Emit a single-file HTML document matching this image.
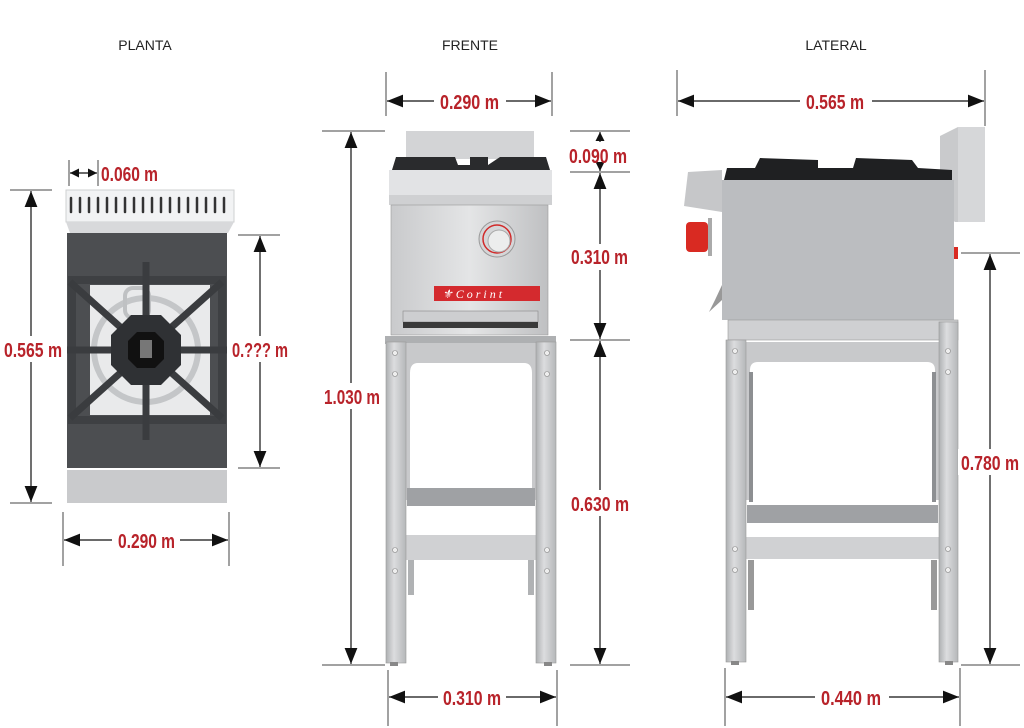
<!DOCTYPE html>
<html><head><meta charset="utf-8"><style>
html,body{margin:0;padding:0;background:#fff;}
svg{display:block;}
.t{font-family:"Liberation Sans",sans-serif;font-size:14px;fill:#222;}
.d{font-family:"Liberation Sans Narrow","Liberation Sans",sans-serif;font-weight:bold;font-size:20px;fill:#b8232a;}
.l{stroke:#111;stroke-width:1.2;fill:none;}
.tk{stroke:#444;stroke-width:1;}
</style></head><body>
<svg width="1024" height="728" viewBox="0 0 1024 728" xmlns="http://www.w3.org/2000/svg">
<defs>
<marker id="a" viewBox="0 0 10 10" refX="10" refY="5" markerWidth="9" markerHeight="9" orient="auto-start-reverse" markerUnits="userSpaceOnUse"><path d="M0,0 L10,5 L0,10z" fill="#111"/></marker>
<marker id="b" viewBox="0 0 10 10" refX="10" refY="5" markerWidth="16" markerHeight="16" orient="auto-start-reverse" markerUnits="userSpaceOnUse"><path d="M0,1 L10,5 L0,9z" fill="#111"/></marker>
<linearGradient id="steel" x1="0" x2="1"><stop offset="0" stop-color="#c9cacc"/><stop offset=".5" stop-color="#e4e5e6"/><stop offset="1" stop-color="#bfc0c2"/></linearGradient>
<linearGradient id="leg" x1="0" x2="1"><stop offset="0" stop-color="#aeb0b2"/><stop offset=".4" stop-color="#dcdddf"/><stop offset="1" stop-color="#b5b7b9"/></linearGradient>
</defs>

<text class="t" x="145" y="50" text-anchor="middle">PLANTA</text>
<text class="t" x="470" y="50" text-anchor="middle">FRENTE</text>
<text class="t" x="836" y="50" text-anchor="middle">LATERAL</text>

<!-- ============ PLANTA ============ -->
<rect x="66" y="190" width="168" height="32" fill="#f2f3f4" stroke="#cfd0d2"/>
<g stroke="#333" stroke-width="2.5" stroke-linecap="round">
<line x1="71" y1="198" x2="71" y2="212"/><line x1="80" y1="198" x2="80" y2="212"/><line x1="89" y1="198" x2="89" y2="212"/><line x1="98" y1="198" x2="98" y2="212"/><line x1="107" y1="198" x2="107" y2="212"/><line x1="116" y1="198" x2="116" y2="212"/><line x1="125" y1="198" x2="125" y2="212"/><line x1="134" y1="198" x2="134" y2="212"/><line x1="143" y1="198" x2="143" y2="212"/><line x1="152" y1="198" x2="152" y2="212"/><line x1="161" y1="198" x2="161" y2="212"/><line x1="170" y1="198" x2="170" y2="212"/><line x1="179" y1="198" x2="179" y2="212"/><line x1="188" y1="198" x2="188" y2="212"/><line x1="197" y1="198" x2="197" y2="212"/><line x1="206" y1="198" x2="206" y2="212"/><line x1="215" y1="198" x2="215" y2="212"/><line x1="224" y1="198" x2="224" y2="212"/>
</g>
<polygon points="66,222 234,222 228,233 70,233" fill="#d8d9db"/>
<rect x="67" y="233" width="160" height="235" fill="#4c4e51"/>
<rect x="90" y="285" width="120" height="130" fill="#e9eaeb"/>
<circle cx="146" cy="350" r="52" fill="none" stroke="#c4c6c8" stroke-width="6"/>
<rect x="125" y="288" width="24" height="30" rx="8" fill="none" stroke="#bfc1c3" stroke-width="4"/>
<rect x="72" y="280" width="150" height="140" fill="none" stroke="#3e4043" stroke-width="8"/>
<g stroke="#3a3c3f" stroke-width="7">
<line x1="146" y1="262" x2="146" y2="440"/>
<line x1="67" y1="350" x2="227" y2="350"/>
<line x1="70" y1="282" x2="222" y2="418"/>
<line x1="222" y1="282" x2="70" y2="418"/>
</g>
<polygon points="131,315 161,315 181,335 181,365 161,385 131,385 111,365 111,335" fill="#2f3134"/>
<polygon points="137,332 155,332 164,341 164,359 155,368 137,368 128,359 128,341" fill="#111"/>
<rect x="140" y="340" width="12" height="18" fill="#777"/>
<rect x="67" y="470" width="160" height="33" fill="#c9cacc"/>
<!-- planta dims -->
<line class="tk" x1="69" y1="160" x2="69" y2="186"/><line class="tk" x1="98" y1="160" x2="98" y2="186"/>
<line class="l" x1="70" y1="173" x2="97" y2="173" marker-start="url(#a)" marker-end="url(#a)"/>
<text class="d" x="101" y="181" textLength="57" lengthAdjust="spacingAndGlyphs">0.060 m</text>
<line class="tk" x1="10" y1="190" x2="52" y2="190"/><line class="tk" x1="10" y1="503" x2="52" y2="503"/>
<line class="l" x1="31" y1="191" x2="31" y2="502" marker-start="url(#b)" marker-end="url(#b)"/>
<rect x="3" y="336" width="60" height="26" fill="#fff"/>
<text class="d" x="4" y="357" textLength="58" lengthAdjust="spacingAndGlyphs">0.565 m</text>
<line class="tk" x1="238" y1="235" x2="280" y2="235"/><line class="tk" x1="238" y1="468" x2="280" y2="468"/>
<line class="l" x1="260" y1="236" x2="260" y2="467" marker-start="url(#b)" marker-end="url(#b)"/>
<rect x="231" y="336" width="58" height="26" fill="#fff"/>
<text class="d" x="232" y="357" textLength="56" lengthAdjust="spacingAndGlyphs">0.??? m</text>
<line class="tk" x1="63" y1="512" x2="63" y2="566"/><line class="tk" x1="229" y1="512" x2="229" y2="566"/>
<line class="l" x1="64" y1="540" x2="228" y2="540" marker-start="url(#b)" marker-end="url(#b)"/>
<rect x="112" y="528" width="68" height="24" fill="#fff"/>
<text class="d" x="118" y="548" textLength="57" lengthAdjust="spacingAndGlyphs">0.290 m</text>

<!-- ============ FRENTE ============ -->
<rect x="406" y="131" width="128" height="28" fill="#d3d4d6"/>
<path d="M392,170 L396,157 L455,157 L458,165 L470,165 L470,157 L488,157 L488,165 L500,157 L546,157 L550,170z" fill="#2a2b2d"/>
<rect x="389" y="170" width="163" height="25" fill="#e2e3e5"/>
<rect x="389" y="195" width="163" height="10" fill="#cfd0d2"/>
<rect x="391" y="205" width="157" height="130" fill="url(#steel)" stroke="#999" stroke-width=".6"/>
<circle cx="497" cy="239" r="18" fill="#d5d6d8" stroke="#999"/>
<circle cx="497" cy="239" r="14" fill="none" stroke="#d12a2a" stroke-width="1.5"/>
<circle cx="499" cy="241" r="11" fill="#eceded" stroke="#aaa"/>
<rect x="434" y="286" width="106" height="15" fill="#d42a2e"/>
<text x="442" y="298" font-family="Liberation Serif,serif" font-style="italic" font-size="12" fill="#fff">⚜  C o r i n t</text>
<rect x="403" y="311" width="135" height="11" fill="#cdced0" stroke="#888" stroke-width=".6"/>
<rect x="403" y="322" width="135" height="6" fill="#3a3a3a"/>
<!-- frente stand -->
<rect x="385" y="336" width="171" height="8" fill="#aeb0b2"/>
<path d="M406,343 H536 V363 H418 Q410,363 410,373 V500 H406z M536,363 V500 H532 V373 Q532,363 524,363" fill="#c8c9cb"/>
<rect x="407" y="488" width="128" height="18" fill="#9fa1a4"/>
<rect x="406" y="535" width="130" height="25" fill="#d0d1d3"/>
<rect x="408" y="560" width="6" height="35" fill="#b0b2b4"/><rect x="528" y="560" width="6" height="35" fill="#b0b2b4"/>
<rect x="386" y="342" width="20" height="321" fill="url(#leg)" stroke="#999" stroke-width=".6"/>
<rect x="536" y="342" width="20" height="321" fill="url(#leg)" stroke="#999" stroke-width=".6"/>
<g fill="#eee" stroke="#888" stroke-width=".6">
<circle cx="395" cy="353" r="2.5"/><circle cx="395" cy="374" r="2.5"/><circle cx="395" cy="550" r="2.5"/><circle cx="395" cy="571" r="2.5"/>
<circle cx="547" cy="353" r="2.5"/><circle cx="547" cy="374" r="2.5"/><circle cx="547" cy="550" r="2.5"/><circle cx="547" cy="571" r="2.5"/>
</g>
<rect x="390" y="662" width="8" height="4" fill="#888"/><rect x="544" y="662" width="8" height="4" fill="#888"/>
<!-- frente dims -->
<line class="tk" x1="386" y1="72" x2="386" y2="116"/><line class="tk" x1="552" y1="72" x2="552" y2="116"/>
<line class="l" x1="387" y1="101" x2="551" y2="101" marker-start="url(#b)" marker-end="url(#b)"/>
<rect x="434" y="89" width="72" height="24" fill="#fff"/>
<text class="d" x="440" y="109" textLength="59" lengthAdjust="spacingAndGlyphs">0.290 m</text>
<line class="tk" x1="322" y1="131" x2="385" y2="131"/><line class="tk" x1="322" y1="665" x2="385" y2="665"/>
<line class="l" x1="351" y1="132" x2="351" y2="664" marker-start="url(#b)" marker-end="url(#b)"/>
<rect x="322" y="383" width="60" height="26" fill="#fff"/>
<text class="d" x="324" y="404" textLength="56" lengthAdjust="spacingAndGlyphs">1.030 m</text>
<line class="tk" x1="570" y1="131" x2="630" y2="131"/><line class="tk" x1="570" y1="172" x2="630" y2="172"/>
<line class="tk" x1="570" y1="340" x2="630" y2="340"/><line class="tk" x1="570" y1="665" x2="630" y2="665"/>
<line class="l" x1="600" y1="132" x2="600" y2="142" marker-start="url(#a)"/>
<line class="l" x1="600" y1="162" x2="600" y2="171" marker-end="url(#a)"/>
<text class="d" x="569" y="163" textLength="58" lengthAdjust="spacingAndGlyphs">0.090 m</text>
<line class="l" x1="600" y1="173" x2="600" y2="339" marker-start="url(#b)" marker-end="url(#b)"/>
<rect x="566" y="244" width="66" height="26" fill="#fff"/>
<text class="d" x="571" y="264" textLength="57" lengthAdjust="spacingAndGlyphs">0.310 m</text>
<line class="l" x1="600" y1="341" x2="600" y2="664" marker-start="url(#b)" marker-end="url(#b)"/>
<rect x="566" y="490" width="66" height="26" fill="#fff"/>
<text class="d" x="571" y="511" textLength="58" lengthAdjust="spacingAndGlyphs">0.630 m</text>
<line class="tk" x1="388" y1="670" x2="388" y2="726"/><line class="tk" x1="557" y1="670" x2="557" y2="726"/>
<line class="l" x1="389" y1="697" x2="556" y2="697" marker-start="url(#b)" marker-end="url(#b)"/>
<rect x="438" y="685" width="68" height="24" fill="#fff"/>
<text class="d" x="443" y="705" textLength="58" lengthAdjust="spacingAndGlyphs">0.310 m</text>

<!-- ============ LATERAL ============ -->
<polygon points="940,136 958,127 985,127 985,222 955,222 940,210" fill="#c9cacc"/>
<rect x="958" y="127" width="27" height="95" fill="#d6d7d9"/>
<path d="M724,180 L727,168 L755,168 L760,158 L818,160 L818,168 L853,168 L856,158 L912,160 L918,168 L952,170 L952,180z" fill="#1f2022"/>
<rect x="722" y="180" width="232" height="140" fill="#bbbdc0"/>
<polygon points="688,172 722,170 722,212 684,206" fill="#c6c7c9"/>
<rect x="686" y="222" width="22" height="30" rx="4" fill="#d92a22"/>
<rect x="708" y="218" width="4" height="38" fill="#aaa"/>
<rect x="954" y="247" width="4" height="12" fill="#d92a22"/>
<path d="M722,285 L715,300 L709,312 L722,300z" fill="#999"/>
<!-- lateral stand -->
<rect x="728" y="320" width="230" height="20" fill="#cfd0d2" stroke="#999" stroke-width=".6"/>
<path d="M746,342 H939 V362 H758 Q750,362 750,370 V500 H746z M939,362 V500 H935 V370 Q935,362 927,362" fill="#c8c9cb"/>
<rect x="749" y="372" width="4" height="130" fill="#8d8f92"/><rect x="932" y="372" width="4" height="130" fill="#8d8f92"/>
<rect x="747" y="505" width="191" height="18" fill="#9fa1a4"/>
<rect x="746" y="537" width="193" height="22" fill="#d0d1d3"/>
<rect x="748" y="560" width="6" height="50" fill="#999"/><rect x="931" y="560" width="6" height="50" fill="#999"/>
<rect x="726" y="340" width="20" height="322" fill="url(#leg)" stroke="#999" stroke-width=".6"/>
<rect x="939" y="322" width="19" height="340" fill="url(#leg)" stroke="#999" stroke-width=".6"/>
<g fill="#eee" stroke="#888" stroke-width=".6">
<circle cx="735" cy="351" r="2.5"/><circle cx="735" cy="372" r="2.5"/><circle cx="735" cy="549" r="2.5"/><circle cx="735" cy="570" r="2.5"/>
<circle cx="948" cy="351" r="2.5"/><circle cx="948" cy="372" r="2.5"/><circle cx="948" cy="549" r="2.5"/><circle cx="948" cy="570" r="2.5"/>
</g>
<rect x="731" y="661" width="8" height="4" fill="#888"/><rect x="945" y="661" width="8" height="4" fill="#888"/>
<!-- lateral dims -->
<line class="tk" x1="677" y1="70" x2="677" y2="116"/><line class="tk" x1="985" y1="70" x2="985" y2="126"/>
<line class="l" x1="678" y1="101" x2="984" y2="101" marker-start="url(#b)" marker-end="url(#b)"/>
<rect x="800" y="89" width="72" height="24" fill="#fff"/>
<text class="d" x="806" y="109" textLength="58" lengthAdjust="spacingAndGlyphs">0.565 m</text>
<line class="tk" x1="961" y1="253" x2="1020" y2="253"/><line class="tk" x1="961" y1="665" x2="1020" y2="665"/>
<line class="l" x1="990" y1="254" x2="990" y2="664" marker-start="url(#b)" marker-end="url(#b)"/>
<rect x="958" y="449" width="64" height="26" fill="#fff"/>
<text class="d" x="961" y="470" textLength="58" lengthAdjust="spacingAndGlyphs">0.780 m</text>
<line class="tk" x1="725" y1="668" x2="725" y2="726"/><line class="tk" x1="960" y1="668" x2="960" y2="726"/>
<line class="l" x1="726" y1="697" x2="959" y2="697" marker-start="url(#b)" marker-end="url(#b)"/>
<rect x="815" y="685" width="74" height="24" fill="#fff"/>
<text class="d" x="821" y="705" textLength="60" lengthAdjust="spacingAndGlyphs">0.440 m</text>
</svg>
</body></html>
